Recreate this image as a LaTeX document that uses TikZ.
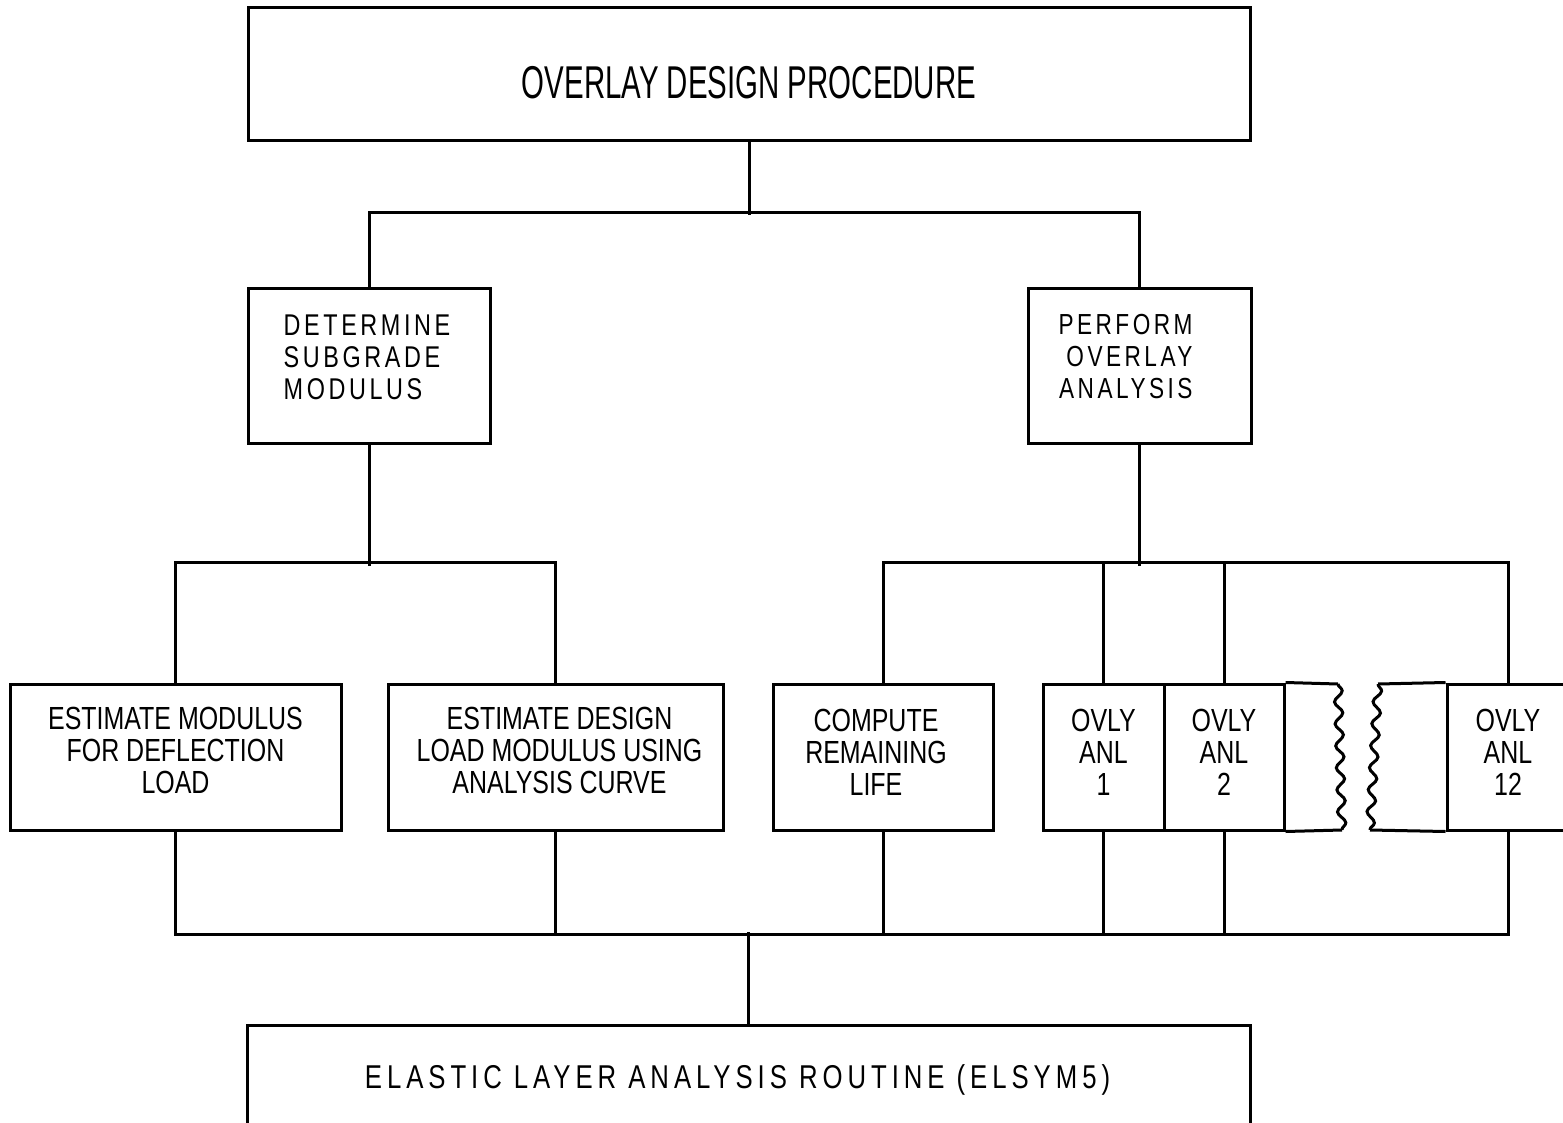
\documentclass[tikz,border=0pt]{standalone}
\usepackage{fontspec}
\setmainfont{Liberation Sans}[FakeStretch=0.78]
\newfontfamily\spacedfont{Liberation Sans}[FakeStretch=0.78,LetterSpace=12]
\newfontfamily\widefont{Liberation Sans}[FakeStretch=0.78,LetterSpace=15]
\newfontfamily\titlefont{Liberation Sans}[FakeStretch=0.64]
\usetikzlibrary{decorations.pathmorphing}

\begin{document}
\begin{tikzpicture}[x=1pt, y=-1pt,
    block/.style={rectangle, draw, line width=3pt, inner sep=0pt},
    boxtext/.style={inner sep=0pt, align=center, font=\fontsize{32}{32}\selectfont},
    link/.style={line width=3pt},
    wavy/.style={line width=3pt, decorate, decoration={snake, amplitude=4pt, segment length=22pt}}
]
    \useasboundingbox (0,0) rectangle (1563,1123);
    \clip (0,0) rectangle (1563,1123);

    % Nodes
    \node[block, minimum width=1002pt, minimum height=133pt,
        label={[boxtext, yshift=-8.5pt, font=\titlefont\fontsize{46}{46}\selectfont]center:OVERLAY DESIGN PROCEDURE}] (top) at (749,74.5) {};
    \node[block, minimum width=242pt, minimum height=154pt,
        label={[boxtext, xshift=-2pt, yshift=9pt, align=left, font=\spacedfont\fontsize{30}{32}\selectfont]center:DETERMINE\\SUBGRADE\\MODULUS}] (subgrade) at (369,366) {};
    \node[block, minimum width=223pt, minimum height=154pt,
        label={[boxtext, xshift=-14pt, yshift=9pt, align=right, font=\spacedfont\fontsize{29}{32}\selectfont]center:PERFORM\\OVERLAY\\ANALYSIS}] (perform) at (1139.5,366) {};

    \node[block, minimum width=331pt, minimum height=146pt,
        label={[boxtext, yshift=7pt]center:ESTIMATE MODULUS\\FOR DEFLECTION\\LOAD}] (defl) at (175.5,757) {};
    \node[block, minimum width=335pt, minimum height=146pt,
        label={[boxtext, xshift=4pt, yshift=7pt]center:ESTIMATE DESIGN\\LOAD MODULUS USING\\ANALYSIS CURVE}] (design) at (555.5,757) {};
    \node[block, minimum width=220pt, minimum height=146pt,
        label={[boxtext, xshift=-7pt, yshift=5pt]center:COMPUTE\\REMAINING\\LIFE}] (life) at (883,757) {};
    \node[block, minimum width=121pt, minimum height=146pt,
        label={[boxtext, yshift=5pt]center:OVLY\\ANL\\1}] (ovly1) at (1103.5,757) {};
    \node[block, minimum width=120pt, minimum height=146pt,
        label={[boxtext, yshift=5pt]center:OVLY\\ANL\\2}] (ovly2) at (1224,757) {};
    \node[block, minimum width=122pt, minimum height=146pt,
        label={[boxtext, yshift=5pt]center:OVLY\\ANL\\12}] (ovly12) at (1508,757) {};

    \node[block, minimum width=1003pt, minimum height=110pt,
        label={[boxtext, xshift=-11pt, font=\widefont\fontsize{33}{33}\selectfont]center:ELASTIC LAYER ANALYSIS ROUTINE (ELSYM5)}] (elsym) at (748.5,1080) {};

    % Broken row of overlay analyses
    \draw[link] (ovly2.north east) -- (1338,684);
    \draw[wavy] (1338,684) -- (1342,830);
    \draw[link] (1342,830) -- (ovly2.south east);
    \draw[link] (ovly12.north west) -- (1378,684);
    \draw[wavy] (1378,684) -- (1370,830);
    \draw[link] (1370,830) -- (ovly12.south west);

    % Relations
    \draw[link] (top.south) -- ++(0,73);
    \draw[link] (subgrade.north) -- ++(0,-75) -| (perform.north);

    \draw[link] (subgrade.south) -- ++(0,121);
    \draw[link] (defl.north) -- ++(0,-120) -| (design.north);

    \draw[link] (perform.south) -- ++(0,121);
    \draw[link] (life.north) -- ++(0,-120) -| (ovly12.north);
    \draw[link] (ovly1.north) -- ++(0,-120);
    \draw[link] (ovly2.north) -- ++(0,-120);

    \draw[link] (defl.south) -- ++(0,103) -| (ovly12.south);
    \draw[link] (design.south) -- ++(0,103);
    \draw[link] (life.south) -- ++(0,103);
    \draw[link] (ovly1.south) -- ++(0,103);
    \draw[link] (ovly2.south) -- ++(0,103);
    \draw[link] (elsym.north) -- ++(0,-92);
\end{tikzpicture}
\end{document}
